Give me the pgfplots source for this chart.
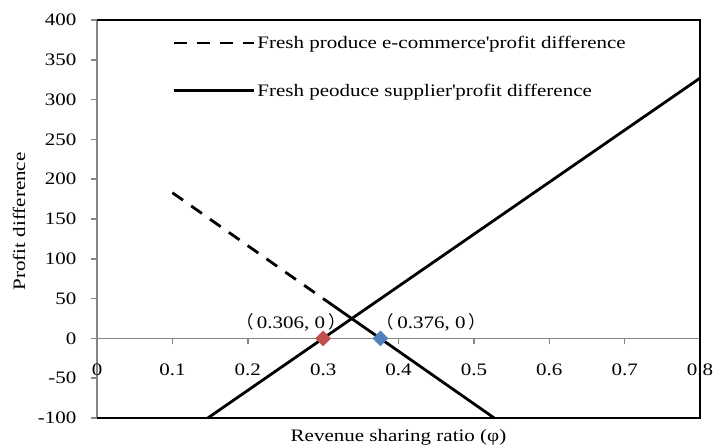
\documentclass[border=0pt]{standalone}
\usepackage{pgfplots}
\pgfplotsset{compat=1.18}
\usepackage{fontspec}
\newfontfamily\rmf{Liberation Serif}[FakeStretch=1.2]
\newfontfamily\cjk{Noto Sans CJK SC}
\definecolor{axgray}{RGB}{134,134,134}
\definecolor{mred}{RGB}{192,80,77}
\definecolor{mblue}{RGB}{79,129,189}
\newcommand{\fs}{\rmf\fontsize{17.5}{21}\selectfont}
\pgfplotsset{
  legA/.style={legend image code/.code={\draw[##1] (0pt,0pt) -- (60pt,0pt); \path (0pt,0pt) -- (80pt,0pt);}},
  legB/.style={legend image code/.code={\draw[##1] (0pt,0pt) -- (70pt,0pt); \path (0pt,0pt) -- (80pt,0pt);}},
}
\begin{document}
\begin{tikzpicture}
\begin{axis}[
  name=ax,
  scale only axis, width=603pt, height=398pt,
  xmin=0, xmax=0.8, ymin=-100, ymax=400,
  clip=false,
  axis x line=middle, axis y line=left,
  axis line style={axgray, line width=1.5pt, -},
  xtick={0,0.1,0.2,0.3,0.4,0.5,0.6,0.7,0.8},
  xticklabels={0,0.1,0.2,0.3,0.4,0.5,0.6,0.7,0.8},
  ytick={-100,-50,0,50,100,150,200,250,300,350,400},
  yticklabels={-100,-50,0,50,100,150,200,250,300,350,400},
  hide obscured x ticks=false,
  hide obscured y ticks=false,
  tick align=outside,
  major tick length=6pt,
  tick style={axgray, line width=1.5pt},
  font=\fs,
  /pgf/number format/assume math mode=true,
  xticklabel style={font=\fs, anchor=center, yshift=-25pt},
  yticklabel style={font=\fs, anchor=east, xshift=-11pt},
  xlabel={Revenue sharing ratio (φ)},
  xlabel style={at={(rel axis cs:0.5,0)}, anchor=center, yshift=-19pt, font=\fs},
  legend style={draw=none, fill=none, at={(rel axis cs:0.12,0.97)}, anchor=north west, font=\fs, row sep=30pt},
  legend cell align=left,
]
\addplot[black, line width=2.8pt, dash pattern=on 13pt off 10pt, legA]
  coordinates {(0.1,183) (0.3,50)};
\addlegendentry{Fresh produce e-commerce\textquotesingle profit difference}
\addplot[black, line width=2.8pt, legB]
  coordinates {(0.147,-100) (0.8,327)};
\addlegendentry{Fresh peoduce supplier\textquotesingle profit difference}
\addplot[black, line width=2.8pt, forget plot] coordinates {(0.3,50) (0.527,-100)};
\addplot[only marks, mark=square*, mark size=5.3pt, mark options={rotate=45, fill=mred, draw=mred}, forget plot] coordinates {(0.3,0)};
\addplot[only marks, mark=square*, mark size=5.3pt, mark options={rotate=45, fill=mblue, draw=mblue}, forget plot] coordinates {(0.376,0)};
\draw[black, line width=1.5pt] (rel axis cs:0,0) -- (rel axis cs:1,0) -- (rel axis cs:1,1) -- (rel axis cs:0,1);
\node[font=\fs] at (axis cs:0.3,0) [xshift=-32pt, yshift=16pt] {{\cjk （}\hspace{3pt}0.306, 0\hspace{3pt}{\cjk ）}};
\node[font=\fs] at (axis cs:0.376,0) [xshift=51pt, yshift=16pt] {{\cjk （}\hspace{3pt}0.376, 0\hspace{3pt}{\cjk ）}};
\node[xshift=-78pt, font=\fs, rotate=90, anchor=center] at (rel axis cs:0,0.494) {Profit difference};
\end{axis}
\path (ax.south west) ++(-97pt,-30pt) coordinate (bbA);
\path (ax.north east) ++(13pt,20pt) coordinate (bbB);
\pgfresetboundingbox
\path (bbA) rectangle (bbB);
\end{tikzpicture}
\end{document}
